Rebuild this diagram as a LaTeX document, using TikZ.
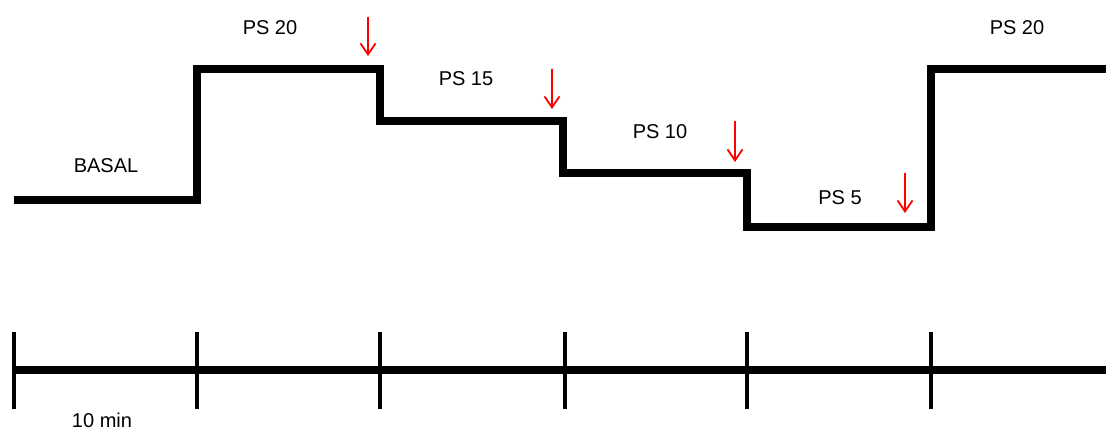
\documentclass[tikz,border=0pt]{standalone}
\usepackage{fontspec}
\setmainfont{Liberation Sans}
\usetikzlibrary{arrows.meta}
\tikzset{
  lbl/.style={font=\fontsize{20}{24}\selectfont, inner sep=0pt, anchor=base},
  stair/.style={line width=8pt, line join=miter, line cap=butt},
  axis/.style={line width=8pt, line cap=butt},
  tick/.style={line width=4.5pt, line cap=butt},
  marker/.style={red, line width=1.8pt, -{Straight Barb[length=11pt,width=15pt,line width=1.8pt]}}
}
\begin{document}
\begin{tikzpicture}[x=1pt,y=-1pt]
\useasboundingbox (0,0) rectangle (1106,432);
% pressure support levels
\draw[stair] (14,200) -- (197,200) -- (197,69) -- (380,69) -- (380,121)
  -- (563,121) -- (563,173) -- (747,173) -- (747,227) -- (931,227)
  -- (931,69) -- (1106,69);
% level labels
\node[lbl] (basal) at (106,172) {BASAL};
\node[lbl] (ps20a) at (270,34) {PS 20};
\node[lbl] (ps15) at (466,85) {PS 15};
\node[lbl] (ps10) at (660,138) {PS 10};
\node[lbl] (ps5) at (840,204) {PS 5};
\node[lbl] (ps20b) at (1017,34) {PS 20};
% step-down markers
\coordinate (m1s) at (368,17); \coordinate (m1e) at (368,56);
\coordinate (m2s) at (552,69); \coordinate (m2e) at (552,109);
\coordinate (m3s) at (735,121); \coordinate (m3e) at (735,162);
\coordinate (m4s) at (905,173); \coordinate (m4e) at (905,213);
\draw[marker] (m1s) -- (m1e);
\draw[marker] (m2s) -- (m2e);
\draw[marker] (m3s) -- (m3e);
\draw[marker] (m4s) -- (m4e);
% time axis
\draw[axis] (14,370) -- (1106,370);
\foreach \x in {14,197,380,565,747,931}
  \draw[tick] (\x,332) -- (\x,409);
\node[lbl] (tmin) at (102,427) {10 min};
\end{tikzpicture}
\end{document}
